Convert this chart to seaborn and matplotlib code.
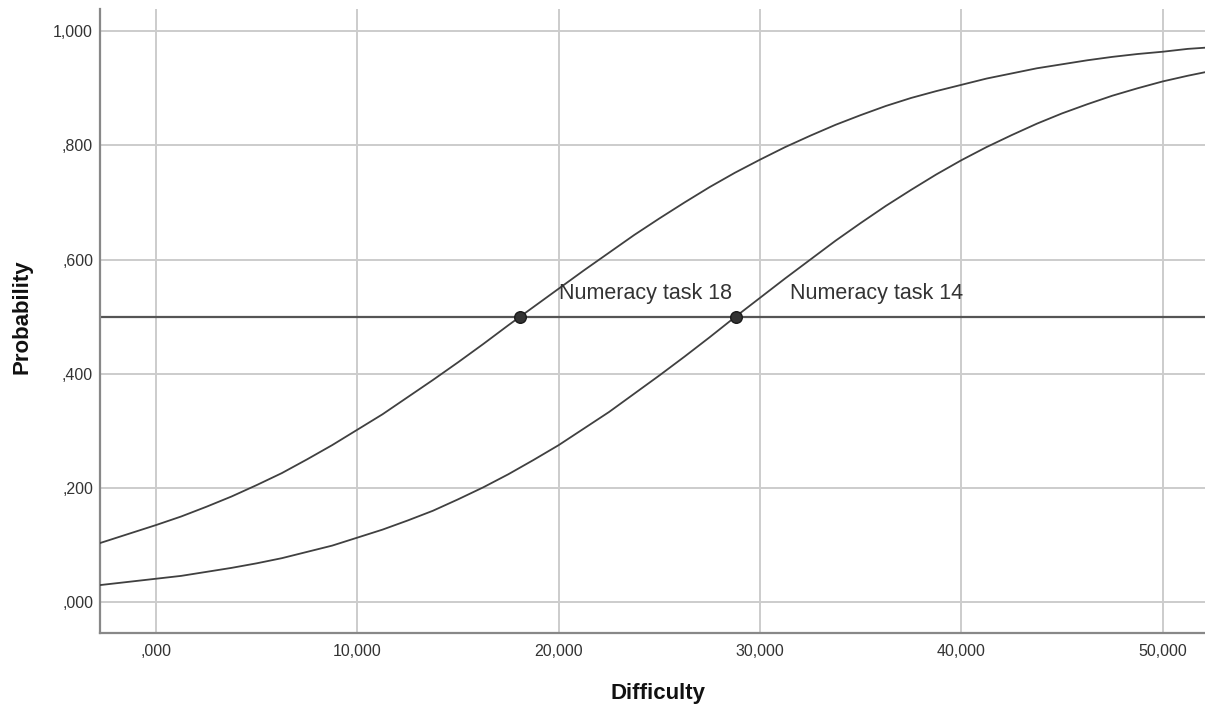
import pandas as pd
import seaborn as sns
import matplotlib.pyplot as plt
import matplotlib.ticker as mticker

### values
difficulty = [-3.0, -1.5, 0.0, 1.25, 2.5, 3.75, 5.0, 6.25, 7.5, 8.75, 10.0, 11.25,
              12.5, 13.75, 15.0, 16.25, 17.5, 18.75, 20.0, 21.25, 22.5, 23.75, 25.0,
              26.25, 27.5, 28.75, 30.0, 31.25, 32.5, 33.75, 35.0, 36.25, 37.5, 38.75,
              40.0, 41.25, 42.5, 43.75, 45.0, 46.25, 47.5, 48.75, 50.0, 51.25, 52.5]
prob_task18 = [0.101, 0.118, 0.135, 0.150, 0.167, 0.185, 0.205, 0.226, 0.250, 0.275,
               0.302, 0.329, 0.359, 0.389, 0.420, 0.452, 0.485, 0.517, 0.549, 0.581,
               0.612, 0.643, 0.672, 0.700, 0.727, 0.752, 0.775, 0.797, 0.817, 0.836,
               0.853, 0.869, 0.883, 0.895, 0.906, 0.917, 0.926, 0.935, 0.942, 0.949,
               0.955, 0.960, 0.964, 0.969, 0.972]
prob_task14 = [0.029, 0.035, 0.041, 0.046, 0.053, 0.060, 0.068, 0.077, 0.088, 0.099,
               0.113, 0.127, 0.143, 0.160, 0.180, 0.201, 0.224, 0.249, 0.275, 0.304,
               0.333, 0.365, 0.397, 0.430, 0.464, 0.499, 0.533, 0.567, 0.600, 0.633,
               0.664, 0.694, 0.722, 0.749, 0.774, 0.797, 0.818, 0.838, 0.856, 0.872,
               0.887, 0.900, 0.912, 0.922, 0.931]
threshold = 0.5
task_names = ["Numeracy task 18", "Numeracy task 14"]
task_difficulty = [18.1, 28.8]
label_pos = [(20.0, 0.541), (31.5, 0.541)]

df = pd.DataFrame({
    "difficulty": difficulty * 2,
    "prob": prob_task18 + prob_task14,
    "task": [task_names[0]] * len(difficulty) + [task_names[1]] * len(difficulty),
})
pts = pd.DataFrame({"difficulty": task_difficulty, "prob": [threshold] * 2})

sns.set_style("whitegrid")
plt.rcParams['font.family'] = ['Liberation Sans', 'DejaVu Sans']

fig = plt.figure(figsize=(12.05, 7.07), dpi=100)
ax = fig.add_axes([0.083, 0.1047, 0.917, 0.8823])

ax.axhline(threshold, color="#555555", lw=1.6, zorder=2)
sns.lineplot(data=df, x="difficulty", y="prob", hue="task",
             palette=["#404040", "#404040"], lw=1.3, legend=False, ax=ax, zorder=3)
sns.scatterplot(data=pts, x="difficulty", y="prob", s=70, color="#333333",
                edgecolor="#1a1a1a", linewidth=1, ax=ax, zorder=4)

for name, (tx, ty) in zip(task_names, label_pos):
    ax.text(tx, ty, name, fontsize=15.5, color="#333333", va="center", ha="left")

ax.set_xlim(-2.78, 52.1)
ax.set_ylim(-0.054, 1.0385)
ax.set_xticks([0, 10, 20, 30, 40, 50])
ax.set_yticks([0, 0.2, 0.4, 0.6, 0.8, 1.0])

def spss_fmt(v, pos):
    s = f"{v:.3f}".replace(".", ",")
    if s.startswith("0,"):
        s = s[1:]
    return s

ax.xaxis.set_major_formatter(mticker.FuncFormatter(spss_fmt))
ax.yaxis.set_major_formatter(mticker.FuncFormatter(spss_fmt))
ax.tick_params(axis="both", length=0, labelsize=11.5, labelcolor="#333333")
ax.tick_params(axis="x", pad=8)
ax.tick_params(axis="y", pad=5)

ax.grid(True, color="#cccccc", lw=1.4)
for side in ["top", "right"]:
    ax.spines[side].set_visible(False)
for side in ["left", "bottom"]:
    ax.spines[side].set_visible(True)
    ax.spines[side].set_color("#888888")
    ax.spines[side].set_linewidth(1.6)

ax.set_xlabel("")
ax.set_ylabel("")
fig.text(658 / 1205, 1 - 693 / 707, "Difficulty", fontsize=16, fontweight="bold",
         color="#111111", ha="center", va="center")
fig.text(22 / 1205, 1 - 317 / 707, "Probability", fontsize=16, fontweight="bold",
         color="#111111", ha="center", va="center", rotation=90)

fig.savefig("out.png", dpi=100)
